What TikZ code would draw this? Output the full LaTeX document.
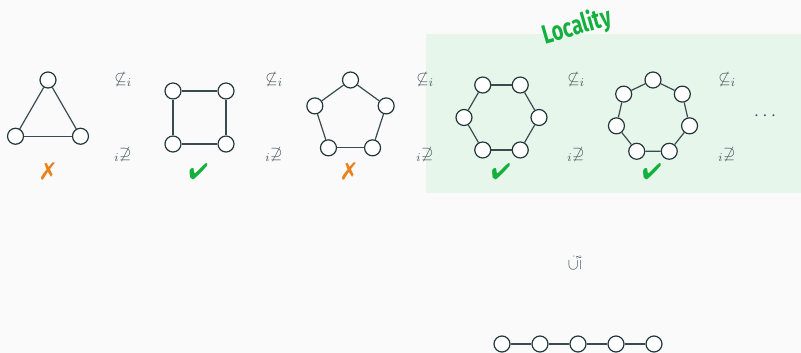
\documentclass[tikz,border=0pt]{standalone}
\usepackage{fontspec}
\setmainfont{Fira Sans}
\usepackage{pifont}
\usepackage{graphicx}
\definecolor{fg}{HTML}{23373B}
\definecolor{bg}{HTML}{FAFAFA}
\definecolor{okgreen}{HTML}{14B03D}
\definecolor{badorange}{HTML}{EB811B}
\definecolor{locfill}{HTML}{E7F6EB}
\tikzset{
  vtx/.style={circle, draw=fg, fill=white, line width=0.9pt, minimum size=12pt, inner sep=0pt},
  edge/.style={draw=fg!90, line width=0.9pt},
  rel/.style={text=fg!85, font=\fontsize{13}{15}\selectfont, inner sep=0pt},
  yes/.style={text=okgreen, font=\fontsize{17}{20}\selectfont, inner sep=0pt},
  no/.style={text=badorange, font=\fontsize{18}{20}\selectfont, inner sep=0pt},
}
\begin{document}
\begin{tikzpicture}[x=0.75pt, y=-0.75pt]
    % page and the local part
    \fill[bg] (0,0) rectangle (801,353);
    \useasboundingbox (0,0) rectangle (801,353);
    \fill[locfill] (426,34) rectangle (801,193);
    \node[text=okgreen, rotate=16, inner sep=0pt] (loc) at (577,27)
        {\fontsize{20}{24}\selectfont\bfseries\scalebox{0.74}[1]{Locality}};
    % cycles C3 ... C7, all with the same radius
    \foreach \n/\cx/\a in {3/48/-90, 4/199.5/45, 5/350.5/-90, 6/501.5/0, 7/653/-90}{
        \foreach \k in {1,...,\n}
            \node[vtx] (c\n-\k) at ([shift={(\cx,117.5)}]\a+360/\n*\k:37.5) {};
        \foreach \k in {1,...,\n}{
            \pgfmathtruncatemacro{\j}{mod(\k,\n)+1}
            \draw[edge] (c\n-\k) -- (c\n-\j);
        }
    }
    % which cycles work
    \node[no]  (ok3) at (48,171)    {\ding{55}};
    \node[yes] (ok4) at (198.5,172) {\ding{52}};
    \node[no]  (ok5) at (349,171)   {\ding{55}};
    \node[yes] (ok6) at (501,172)   {\ding{52}};
    \node[yes] (ok7) at (652,172)   {\ding{52}};
    % relations between neighbours
    \foreach \x in {123,274,425,576,727}{
        \node[rel] (sub\x) at (\x,80)  {$\not\subseteq_i$};
        \node[rel] (sup\x) at (\x,155) {${}_i{\not\supseteq}$};
    }
    \node[rel, font=\fontsize{15}{17}\selectfont] (more) at (765,116) {$\cdots$};
    % the path below
    \node[rel, rotate=90] (inpath) at (575,263) {$\subseteq_i$};
    \foreach \k/\x in {1/502, 2/540, 3/578, 4/616, 5/654}
        \node[vtx] (p\k) at (\x,344) {};
    \foreach \k [evaluate=\k as \j using int(\k+1)] in {1,...,4}
        \draw[edge] (p\k) -- (p\j);
\end{tikzpicture}
\end{document}
